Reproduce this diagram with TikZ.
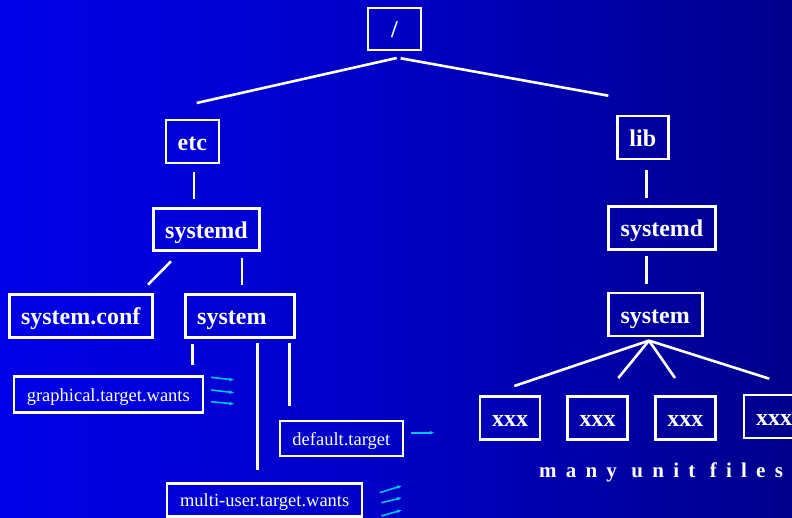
\documentclass[tikz,border=0pt]{standalone}
\usepackage{fontspec}
\setmainfont{Liberation Serif}
\usetikzlibrary{calc,arrows.meta}

% horizontal blue-to-navy background ramp
\definecolor{bgA}{RGB}{0,0,255}
\definecolor{bgB}{RGB}{0,0,232}
\definecolor{bgC}{RGB}{0,0,196}
\definecolor{bgD}{RGB}{0,0,140}
\definecolor{bgE}{RGB}{0,0,62}
\definecolor{linkcyan}{RGB}{0,196,255}
\pgfdeclarehorizontalshading{bgramp}{100bp}{color(0bp)=(bgA); color(25bp)=(bgB); color(50bp)=(bgC); color(75bp)=(bgD); color(100bp)=(bgE)}

\tikzset{
  dirbox/.style={draw=white, line width=2.6pt, text=white, inner sep=0pt,
    text height=18, text depth=0.4,
    font=\bfseries\fontsize{24}{26}\selectfont},
  filebox/.style={draw=white, line width=2.4pt, text=white, inner sep=0pt,
    text height=13.4, text depth=0.4,
    font=\fontsize{18.5}{20}\selectfont},
  branch/.style={white, line width=2.6pt},
  link/.style={linkcyan, line width=1.6pt, -{Latex[length=5pt,width=4pt]}},
}

\begin{document}
\begin{tikzpicture}[x=1pt, y=-1pt]
  \useasboundingbox (0,0) rectangle (792,518);
  \clip (0,0) rectangle (792,518);
  \shade[shading=bgramp] (0,0) rectangle (792,518);

  % directory boxes
  \node[dirbox, minimum width=53, minimum height=42] (root) at (394.5,29) {/};
  \node[dirbox, minimum width=53, minimum height=43] (etc) at (192.3,141.7) {etc};
  \node[dirbox, minimum width=106, minimum height=42] (sysd1) at (206.5,229.5) {systemd};
  \node[dirbox, minimum width=143, minimum height=43] (conf) at (80.7,315.8) {system.conf};
  \node[dirbox, text width=85, inner xsep=12, align=left, minimum height=43] (sys1) at (239.7,315.8) {system};
  \node[dirbox, minimum width=51, minimum height=43] (lib) at (642.8,137.5) {lib};
  \node[dirbox, minimum width=107, minimum height=42.6] (sysd2) at (662,228) {systemd};
  \node[dirbox, minimum width=94, minimum height=43] (sys2) at (655.2,314.7) {system};

  % unit file boxes
  \node[filebox, minimum width=189, minimum height=36] (gtw) at (108.3,394.5) {graphical.target.wants};
  \node[filebox, minimum width=123, minimum height=35] (def) at (341.3,438.5) {default.target};
  \node[filebox, minimum width=195, minimum height=33] (mtw) at (264.7,500) {multi-user.target.wants};

  \node[dirbox, minimum width=60, minimum height=43] (xa) at (510,418) {xxx};
  \node[dirbox, minimum width=60, minimum height=43] (xb) at (597.7,418) {xxx};
  \node[dirbox, minimum width=60, minimum height=43] (xc) at (685.3,418) {xxx};
  \node[dirbox, minimum width=60, minimum height=43] (xd) at (774,416.5) {xxx};

  \node[text=white, anchor=base, inner sep=0pt,
        font=\bfseries\fontsize{21}{23}\selectfont\addfontfeature{LetterSpace=44}]
        (many) at (661,477) {many unit files};

  % tree branches
  \draw[branch] ($(root.south)+(2.2,6.7)$) -- ($(etc.north)+(4.4,-15.9)$);
  \draw[branch] ($(root.south)+(6.2,7)$) -- ($(lib.north)+(-34.5,-19)$);
  \draw[branch] ($(etc.south)+(1.7,7.5)$) -- ($(sysd1.north)+(-12.5,-8.5)$);
  \draw[branch] ($(sysd1.south)+(-35.5,9.5)$) -- ($(conf.north)+(67.3,-8.3)$);
  \draw[branch] ($(sysd1.south)+(35.5,6.5)$) -- ($(sys1.north)+(2.3,-8.3)$);
  \draw[branch] ($(sys1.south)+(-47.4,5)$) -- ($(gtw.north)+(84,-10.5)$);
  \draw[branch] ($(sys1.south)+(18,4.7)$) -- ($(mtw.north)+(-7,-12.8)$);
  \draw[branch] ($(sys1.south)+(50,4.7)$) -- ($(def.north)+(-51.6,-14.3)$);
  \draw[branch] ($(lib.south)+(3.9,10)$) -- ($(sysd2.north)+(-15.3,-7.7)$);
  \draw[branch] ($(sysd2.south)+(-15.3,5.7)$) -- ($(sys2.north)+(-8.5,-7.5)$);

  \coordinate (fan) at ($(sys2.south)+(-6.2,3.1)$);
  \draw[branch] (fan) -- ($(xa.north)+(4.3,-9.2)$);
  \draw[branch] (fan) -- ($(xb.north)+(20.6,-17.2)$);
  \draw[branch] (fan) -- ($(xc.north)+(-10.3,-17.2)$);
  \draw[branch] (fan) -- ($(xd.north)+(-4.7,-15)$);

  % symlink arrows
  \draw[link] ($(gtw.east)+(7.2,-17.2)$) -- ++(23.3,2.7);
  \draw[link] ($(gtw.east)+(7.2,-4.5)$) -- ++(23.3,2.7);
  \draw[link] ($(gtw.east)+(7.2,7.2)$) -- ++(23.3,2.3);
  \draw[link] ($(def.east)+(7.3,-5.8)$) -- ++(23.3,0);
  \draw[link] ($(mtw.east)+(16.3,-7.3)$) -- ++(22.4,-7);
  \draw[link] ($(mtw.east)+(18,2.7)$) -- ++(20.7,-5);
  \draw[link] ($(mtw.east)+(18,16)$) -- ++(20.7,-6);
\end{tikzpicture}
\end{document}
